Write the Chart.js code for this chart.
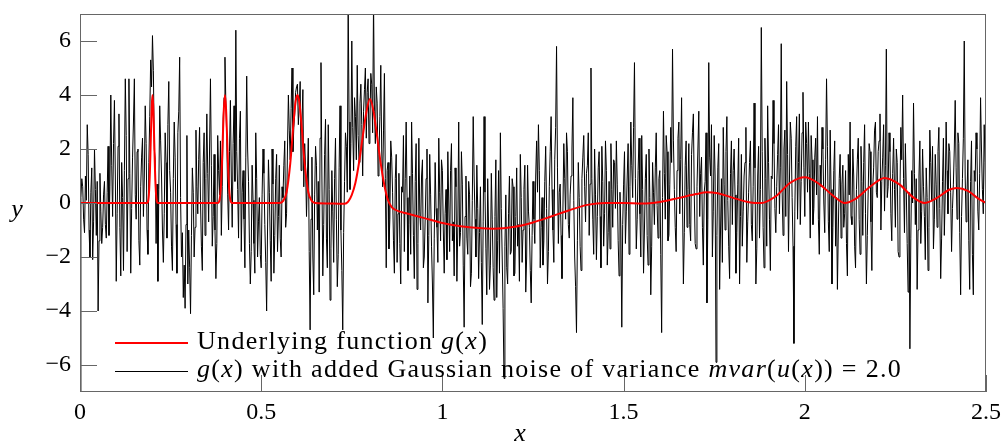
<!DOCTYPE html>
<html>
<head>
<meta charset="utf-8">
<script src="https://cdn.jsdelivr.net/npm/chart.js@4/dist/chart.umd.min.js"></script>
<style>
  html, body { margin:0; padding:0; background:#fff; }
  #wrap { width:1005px; height:441px; }
</style>
</head>
<body>
<div id="wrap"><canvas id="c" width="1005" height="441"></canvas></div>
<script>
/* ---- data ---- */
const xTicks = [0, 0.5, 1, 1.5, 2, 2.5];
const yTicks = [-6, -4, -2, 0, 2, 4, 6];

// underlying function g(x), sampled where it bends
const gX = [0, 0.185, 0.19, 0.193, 0.196, 0.198, 0.2, 0.202, 0.204, 0.207, 0.21, 0.215,
  0.38, 0.385, 0.39, 0.394, 0.397, 0.4, 0.403, 0.406, 0.41, 0.415, 0.42,
  0.55, 0.56, 0.57, 0.58, 0.59, 0.595, 0.6, 0.605, 0.61, 0.62, 0.63, 0.64, 0.65,
  0.7, 0.73, 0.74, 0.75, 0.76, 0.77, 0.78, 0.79, 0.8, 0.81, 0.82, 0.83, 0.84, 0.85, 0.86, 0.87, 0.88,
  0.9, 0.95, 1.0, 1.05, 1.1, 1.14, 1.2, 1.25, 1.3, 1.35, 1.4, 1.45, 1.5, 1.55, 1.6, 1.65, 1.7, 1.73,
  1.76, 1.8, 1.85, 1.88, 1.92, 1.96, 2.0, 2.04, 2.08, 2.11, 2.14, 2.18, 2.22, 2.26, 2.3, 2.33, 2.36,
  2.4, 2.42, 2.45, 2.48, 2.5];
const gY = [0, 0, 0.3, 1.2, 2.7, 3.6, 4.0, 3.6, 2.7, 1.2, 0.3, 0,
  0, 0.1, 0.9, 2.4, 3.5, 4.0, 3.5, 2.4, 0.9, 0.1, 0,
  0, 0.07, 0.4, 1.44, 3.1, 3.76, 4.0, 3.76, 3.1, 1.44, 0.4, 0.07, 0,
  -0.02, -0.03, 0.05, 0.3, 0.75, 1.5, 2.45, 3.35, 3.85, 3.4, 2.45, 1.45, 0.65, 0.1, -0.15, -0.25, -0.31,
  -0.38, -0.56, -0.74, -0.86, -0.93, -0.95, -0.88, -0.72, -0.5, -0.27, -0.07, 0, 0, -0.02, 0.04, 0.18, 0.33, 0.4,
  0.36, 0.2, 0.02, 0, 0.25, 0.75, 0.95, 0.7, 0.25, 0, 0.15, 0.6, 0.93, 0.7, 0.2, 0, 0.15,
  0.5, 0.56, 0.45, 0.15, 0];

// noisy samples, one every 0.0025 from x = 0 (each row spans 0.1)
const noiseStart = 0;
const noiseStep = 0.0025;
const noiseY = [
  -7.2, 0.2, 0.9, 0.6, -0.6, -1.1, 1.0, 0.1, 2.9, 1.8, -1.0, -2.0, 0.4, 1.3, -2.1, -0.7, 2.0, 0.5, -1.2, 0.8,
  -4.0, -1.4, 1.1, -0.3, -1.5, -0.9, 0.3, 0.8, -0.8, -1.3, 0.4, 2.1, -1.2, 0.6, 4.0, 1.4, -0.5, 2.2, 3.8, 1.0,
  -2.9, -0.4, 2.1, 3.3, -0.9, -2.7, 1.5, 0.2, -2.5, 1.2, 4.6, 2.5, -1.8, 0.9, 4.6, 1.1, -2.6, -0.2, 1.7, 3.0,
  4.6, 0.3, -0.6, 1.9, 2.0, -1.4, -2.3, 0.6, 1.7, 2.4, -0.5, 1.0, 3.6, 2.2, -1.0, -1.9, 1.5, 3.2, 5.3, 4.3,
  6.2, 4.9, 2.0, 1.6, -1.5, 0.7, -2.9, 0.5, 3.6, 2.3, 1.0, -1.0, -2.2, -0.4, 2.6, 1.5, -1.3, 2.9, 4.5, 1.2,
  0.4, -1.6, -2.5, 0.9, 3.0, 1.7, -0.8, -2.6, 2.6, 3.4, 5.4, 0.2, -2.0, -1.1, -3.5, -2.3, -3.9, -0.8, 2.5, -3.0,
  -1.0, -2.4, -4.1, -1.2, 1.3, 0.4, -2.0, -0.9, 2.7, 0.6, -0.4, 1.6, 2.8, 0.1, -1.6, -2.5, 1.5, 2.6, -1.2, 0.9,
  3.3, 1.1, -0.7, 2.0, 4.6, 1.4, -1.6, -0.5, 1.8, -1.0, -2.8, -1.5, 2.5, 1.2, 0.3, 2.3, -1.2, 0.6, 3.1, 3.9,
  5.4, 3.7, 2.4, 0.3, -1.0, 1.9, 3.8, 1.0, -0.9, 2.2, 3.6, 0.8, 6.4, 1.9, 0.5, -1.3, 2.4, 3.4, -1.8, 0.4,
  1.2, -0.6, -2.4, 1.7, 4.7, 2.0, 0.8, -1.5, -3.0, -1.8, 1.4, 0.1, -1.5, -2.6, 2.6, 0.9, -2.0, -0.7, 0.2, -1.9,
  -2.4, 0.3, 2.0, 1.1, -0.8, -2.2, -4.0, -1.0, 1.6, 0.4, -1.4, -2.9, 2.0, 0.7, -2.6, -1.2, 0.9, 1.8, -1.8, -0.5,
  1.4, -1.3, -2.0, 0.6, 0.2, 1.4, 2.3, -0.9, -0.4, 2.0, 4.0, 2.7, 1.6, 3.5, 5.0, 1.9, 2.8, 3.3, 4.1, 4.3,
  4.4, 2.9, 3.6, 4.5, 1.2, 3.0, 4.2, 0.6, 2.2, 1.3, -0.5, 1.0, 2.4, -1.8, -4.7, -0.6, 1.7, -2.0, -3.4, 0.3,
  2.1, 1.4, -1.0, 0.8, -3.3, 2.4, 5.2, 1.0, -2.7, -0.8, 1.8, 3.1, -1.3, -2.4, 2.9, 0.5, -3.6, -1.7, 1.2, -0.3,
  -2.2, 0.9, 2.4, -0.6, -3.1, -1.9, 1.3, 3.6, -1.0, -2.5, -4.7, -1.1, 0.8, 2.6, 2.1, 0.4, 7.5, 3.0, 0.5, 2.2,
  6.0, 2.8, 1.2, 3.9, 3.2, 1.6, 5.1, 2.5, 1.5, 3.7, 4.4, 2.9, 1.0, 3.4, 4.2, 5.0, 2.4, 4.1, 4.6, 2.2,
  3.0, 4.8, 4.4, 2.6, 7.5, 3.4, 2.2, 4.3, 3.7, 1.0, 1.8, 3.2, 5.1, 2.0, 0.6, 2.7, 4.8, 0.9, -2.4, 1.2,
  1.5, -1.7, -0.6, 2.3, 1.7, 0.4, -1.4, -2.6, 0.9, 1.8, -2.2, -0.4, 1.1, -1.5, -3.0, 0.6, 0.4, 2.5, -1.8, 0.9,
  3.0, 0.2, -2.5, -0.8, 1.0, -1.9, 3.0, 1.1, -1.2, -2.8, 0.8, 2.2, -3.2, -1.5, 2.4, -0.3, -1.0, 1.0, 1.6, -2.4,
  -2.0, -0.6, 0.9, 2.0, -3.7, -1.2, 1.8, 0.3, -1.6, -3.0, -5.0, -1.3, 1.5, -0.2, -0.9, -2.2, 2.4, 0.4, -1.4, 1.6,
  1.2, -1.0, -2.6, -0.4, 0.5, -2.1, 1.9, 0.0, -1.8, 1.2, 2.2, -1.4, -0.7, -2.7, 1.3, 0.6, -2.9, -0.9, 3.0, -1.6,
  -1.1, 1.9, 0.7, -2.3, -4.6, -0.5, 1.0, -1.3, -1.9, 0.8, 0.3, -3.1, -2.6, 0.1, 3.2, 1.0, -0.6, -2.0, 1.4, -0.2,
  -2.8, -1.1, 0.6, -2.2, -4.5, -0.7, 3.2, 0.4, -1.7, -3.4, 0.9, -1.0, -3.2, -2.3, 1.1, -0.6, -2.4, -3.6, -0.5, 1.6,
  -3.5, -1.4, 1.2, -2.6, 2.6, -0.2, -2.0, -3.9, -6.5, -1.6, 0.3, -2.4, -3.0, -0.4, 1.0, -1.9, -1.8, 0.9, 0.6, -2.7,
  -2.6, -0.5, 1.3, -1.6, -0.8, -2.9, 1.8, 0.2, -2.2, -1.0, 0.5, 1.4, -3.3, -2.0, 1.4, -0.3, -0.9, -2.5, -3.7, -1.2,
  0.8, -0.6, -1.5, 1.0, 2.3, 0.4, 2.9, 1.2, -2.4, -0.9, 0.2, -2.3, -1.4, 0.8, 2.1, -0.2, -3.0, -1.8, 0.6, 1.9,
  3.2, 0.5, -1.0, -2.2, 1.6, 2.8, 5.8, 1.3, -1.5, 0.4, 0.7, -1.2, -2.8, -0.3, 2.2, 0.9, -0.6, 2.6, 1.9, -0.8,
  -1.3, 0.3, 1.0, 2.0, 3.9, 0.1, -2.0, -3.1, -4.8, -1.4, 1.5, 0.2, -1.6, -2.5, 0.9, 1.7, 2.5, 0.6, -0.7, 1.1,
  1.4, 2.6, -1.2, 0.7, 5.0, 0.9, -0.6, -1.9, 2.0, 0.3, -2.1, -0.5, 1.3, 1.9, -0.5, -2.4, 2.1, 0.8, -1.6, -0.4,
  2.3, 1.2, -2.3, -1.1, 0.8, -1.7, 2.2, 0.5, -0.9, 1.6, 1.5, -0.2, 2.3, 0.7, -1.4, -2.7, 0.4, -1.0, -4.6, -0.8,
  0.7, 1.9, -1.5, -0.3, 1.0, 2.2, -1.9, 0.6, 3.0, 1.4, 0.2, 2.8, 5.2, 0.9, -1.7, -0.6, 1.2, 2.4, -0.4, -2.0,
  2.5, 0.5, -2.6, -1.0, 0.9, 1.8, -1.2, -2.3, 2.0, 0.2, -3.4, -1.6, 1.5, 0.4, -0.8, 1.3, 2.6, -0.1, -1.3, 0.9,
  1.2, -1.9, -4.8, 0.2, 3.4, 1.1, -0.6, 2.5, 1.9, -1.4, -1.2, 0.7, 2.8, 1.5, 5.7, 2.3, 0.5, -0.9, -1.8, 1.2,
  2.4, 3.0, -0.4, 1.6, 3.9, 0.2, -3.0, -1.1, 1.4, 2.3, -0.9, 0.5, 2.2, -0.8, -1.4, 1.8, 2.6, 3.3, 0.3, -1.5,
  -1.7, 0.6, 2.0, 3.4, -0.5, 1.1, 1.7, -0.9, -2.3, 0.4, 0.8, 2.6, -3.7, -0.6, 5.2, 1.7, 1.0, 2.9, -2.0, -0.3,
  2.5, 1.0, -5.9, -1.2, 1.3, 2.2, -3.2, -1.0, 0.9, -2.2, 2.8, 0.7, -1.0, 1.9, 3.2, 0.1, -1.6, -2.8, 1.1, 2.3,
  -0.8, 1.2, 2.0, 0.3, -2.6, -1.1, 0.7, 2.4, -3.0, -0.5, 1.8, -1.6, -0.3, 1.0, 1.5, 2.8, -2.2, -0.7, 0.4, 1.5,
  2.3, -0.8, -1.4, 0.6, 3.7, 1.3, -3.0, -1.7, 1.0, 2.1, -1.3, 0.5, 6.5, 1.9, -0.9, -2.4, 2.4, 0.9, -1.6, 3.6,
  1.5, -0.6, -2.5, 1.0, 0.9, 3.8, 2.2, -0.2, -1.1, 0.6, 1.8, 2.9, -0.4, 1.3, 5.9, 0.4, -1.2, 2.0, 2.7, -0.5,
  4.5, 1.8, -1.8, 0.7, 3.0, 2.4, 0.2, -1.6, -5.2, -0.3, 2.1, 3.2, -0.6, 1.5, 3.3, -0.8, 0.8, 2.6, 4.1, 1.3,
  -0.5, 3.0, 2.2, 0.4, 3.0, 1.1, -1.3, 2.5, 1.6, -0.8, -0.2, 1.7, 2.4, 0.3, 3.2, -0.6, -1.9, 1.4, 0.6, 2.8,
  2.0, 0.0, -1.1, 1.6, 4.6, 2.1, -0.7, -1.8, 2.7, 0.5, -3.0, -0.9, 1.2, 2.3, -1.6, 0.2, -3.2, -1.0, 0.9, 1.8,
  -1.3, 0.7, 1.4, -0.9, -0.4, 1.2, -1.5, -2.7, 1.8, 0.3, 3.0, -0.5, -0.8, 2.0, 1.0, -1.6, -2.4, 0.5, 1.6, 2.4,
  -0.6, -1.9, 2.1, 0.8, -1.2, 1.5, 2.9, -0.4, -3.0, -1.2, 0.5, 2.2, 1.9, -0.7, -2.5, 0.6, 1.3, 2.7, 3.0, 0.4,
  0.2, 1.9, 2.3, 3.3, -1.0, 0.8, 1.7, 2.9, -0.3, 1.4, 5.7, 0.2, 0.6, 2.6, 1.9, -0.4, -1.4, 1.1, 2.4, 0.5,
  -0.9, 2.0, 1.5, -1.8, -2.0, 0.3, 2.8, 1.6, 4.0, 0.9, -1.1, 2.2, 0.5, -1.5, -3.3, 0.4, -5.4, -1.3, 1.2, 0.0,
  3.7, 1.1, -0.8, 0.9, -3.2, -1.0, 1.0, 2.3, -1.5, -0.3, 2.0, 0.6, -0.5, -2.1, 1.3, 0.2, -2.5, -0.9, 2.7, 1.5,
  0.1, 2.1, -1.7, -0.6, 1.8, 0.7, -0.9, 1.9, 2.8, -0.2, -2.8, -1.3, 0.8, 2.4, -1.2, 0.3, 3.0, 1.2, -0.4, 2.2,
  1.9, 0.4, -1.8, -0.2, 0.7, 2.0, 3.8, 1.3, -0.6, 2.6, 2.2, -1.1, -3.4, -0.5, 0.9, 2.4, 6.0, 1.0, -0.7, 0.3,
  1.6, -1.4, -3.2, 0.8, 2.3, -1.9, -3.4, 1.2, 0.8, 2.6, 2.0, -0.3, -1.0, 1.1, 3.9, 2.0, 0.5, -0.4, 2.9, 1.5, -1.0
];

const legendRed   = [['Underlying function ', false], ['g', true], ['(', false], ['x', true], [')', false]];
const legendBlack = [['g', true], ['(', false], ['x', true], [') with added Gaussian noise of variance ', false],
  ['mvar', true], ['(', false], ['u', true], ['(', false], ['x', true], [')) = 2.0', false]];

/* ---- build library data ---- */
const gPoints = gX.map((x, i) => ({ x: x, y: gY[i] }));
const noisePoints = noiseY.map((y, i) => ({ x: noiseStart + i * noiseStep, y: y }));

const SERIF = "'Liberation Serif', 'DejaVu Serif', serif";
const FRAME = '#666';

function drawRich(ctx, parts, x, y, size) {
  parts.forEach(([txt, it]) => {
    ctx.font = (it ? 'italic ' : '') + size + 'px ' + SERIF;
    ctx.fillText(txt, x, y);
    x += ctx.measureText(txt).width;
  });
}

const framePlugin = {
  id: 'frame',
  afterDatasetsDraw(chart) {
    const { ctx, chartArea: a, scales } = chart;
    ctx.save();
    ctx.strokeStyle = FRAME;
    ctx.lineWidth = 1;
    ctx.strokeRect(a.left + 0.5, a.top + 0.5, a.right - a.left - 1, a.bottom - a.top - 1);
    // inward ticks
    ctx.beginPath();
    xTicks.forEach(v => {
      const px = Math.round(scales.x.getPixelForValue(v)) + 0.5;
      ctx.moveTo(px, a.bottom); ctx.lineTo(px, a.bottom - 17);
    });
    yTicks.forEach(v => {
      const py = Math.round(scales.y.getPixelForValue(v)) + 0.5;
      ctx.moveTo(a.left, py); ctx.lineTo(a.left + 17, py);
    });
    ctx.stroke();

    // legend
    ctx.lineWidth = 2;
    ctx.strokeStyle = '#ff0000';
    ctx.beginPath(); ctx.moveTo(115, 343); ctx.lineTo(188, 343); ctx.stroke();
    ctx.lineWidth = 1;
    ctx.strokeStyle = '#000';
    ctx.beginPath(); ctx.moveTo(115, 371.5); ctx.lineTo(188, 371.5); ctx.stroke();
    ctx.fillStyle = '#000';
    ctx.textBaseline = 'alphabetic';
    ctx.textAlign = 'left';
    ctx.letterSpacing = '1.3px';
    drawRich(ctx, legendRed, 197, 349, 26);
    drawRich(ctx, legendBlack, 197, 377, 26);
    ctx.letterSpacing = '0px';

    // axis titles
    ctx.font = 'italic 26px ' + SERIF;
    ctx.textAlign = 'center';
    ctx.fillText('y', 17, 217);
    ctx.fillText('x', 520, 441);
    ctx.restore();
  }
};

new Chart(document.getElementById('c'), {
  type: 'line',
  data: {
    datasets: [
      { label: 'g', data: gPoints, borderColor: '#ff0000', borderWidth: 2, pointRadius: 0,
        cubicInterpolationMode: 'monotone', clip: 0, order: 0 },
      { label: 'noise', data: noisePoints, borderColor: '#000', borderWidth: 1, pointRadius: 0,
        tension: 0, clip: 0, order: 1 }
    ]
  },
  options: {
    responsive: false,
    animation: false,
    devicePixelRatio: 1,
    layout: { padding: { top: 14, right: 19, left: 0, bottom: 0 } },
    plugins: { legend: { display: false }, tooltip: { enabled: false } },
    scales: {
      x: {
        type: 'linear', min: 0, max: 2.5,
        afterBuildTicks: s => { s.ticks = xTicks.map(v => ({ value: v })); },
        afterFit: s => { s.height = 49; s.paddingLeft = 0; s.paddingRight = 0; },
        grid: { display: false, drawTicks: false },
        border: { display: false },
        ticks: { color: '#000', padding: 6, maxRotation: 0, font: { family: SERIF, size: 24 },
                 callback: v => String(v) }
      },
      y: {
        type: 'linear', min: -7, max: 7,
        afterBuildTicks: s => { s.ticks = yTicks.map(v => ({ value: v })); },
        afterFit: s => { s.width = 80; s.paddingTop = 0; s.paddingBottom = 0; },
        grid: { display: false, drawTicks: false },
        border: { display: false },
        ticks: { color: '#000', padding: 9, font: { family: SERIF, size: 24 },
                 callback: v => (v < 0 ? '\u2212' + Math.abs(v) : String(v)) }
      }
    }
  },
  plugins: [framePlugin]
});
</script>
</body>
</html>
